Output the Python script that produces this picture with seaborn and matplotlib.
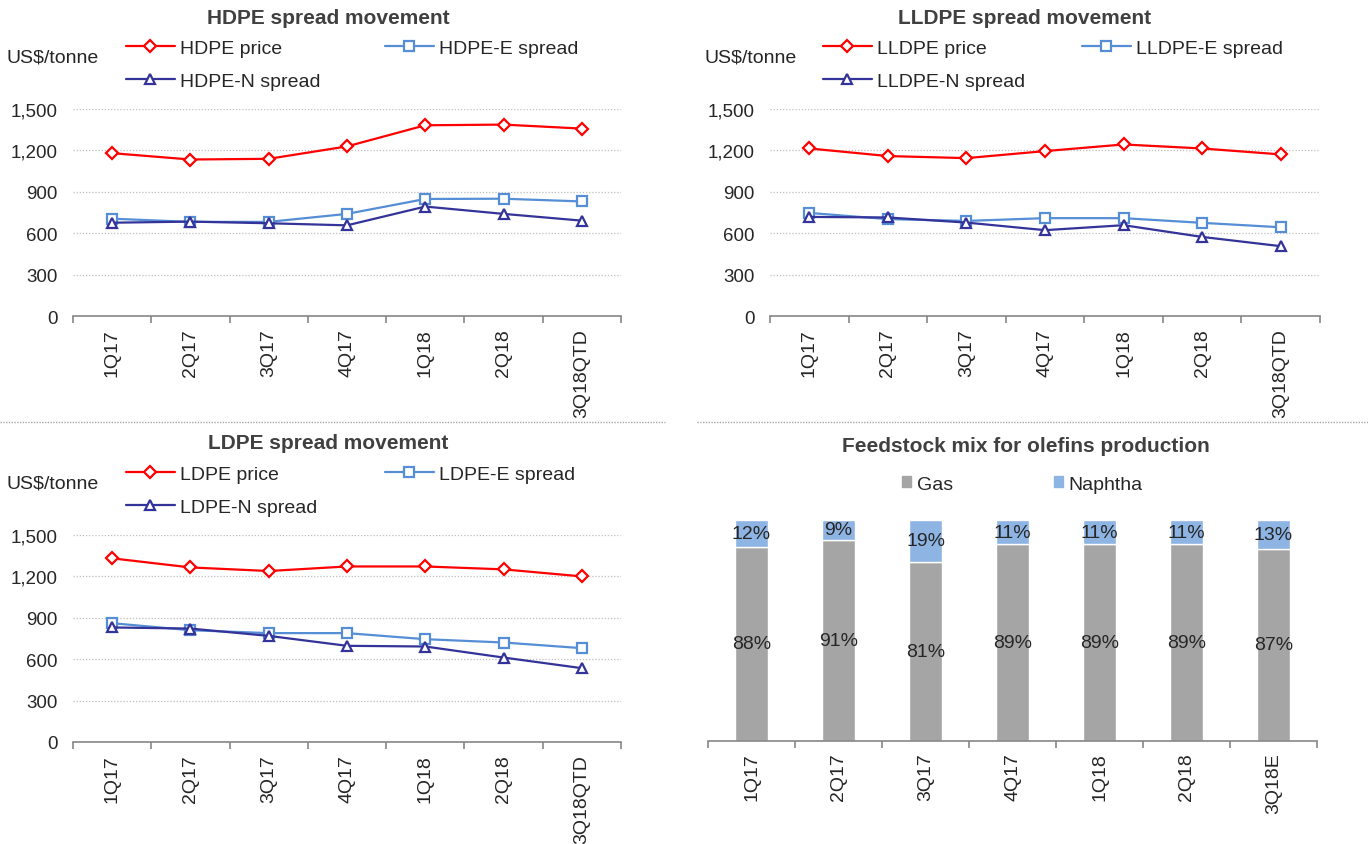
import numpy as np
import matplotlib.pyplot as plt
import seaborn as sns
from matplotlib.lines import Line2D
from matplotlib.patches import Patch
from matplotlib.ticker import FuncFormatter

# Data
quarters = ['1Q17', '2Q17', '3Q17', '4Q17', '1Q18', '2Q18', '3Q18QTD']
mix_quarters = ['1Q17', '2Q17', '3Q17', '4Q17', '1Q18', '2Q18', '3Q18E']

hdpe_price = [1180, 1134, 1139, 1229, 1382, 1387, 1358]
hdpe_e_spread = [705, 682, 682, 740, 848, 850, 830]
hdpe_n_spread = [676, 684, 672, 657, 793, 740, 691]

lldpe_price = [1214, 1159, 1144, 1195, 1243, 1214, 1171]
lldpe_e_spread = [747, 702, 689, 709, 709, 675, 643]
lldpe_n_spread = [718, 714, 677, 622, 658, 573, 506]

ldpe_price = [1331, 1265, 1239, 1272, 1272, 1251, 1200]
ldpe_e_spread = [861, 810, 789, 789, 745, 721, 680]
ldpe_n_spread = [830, 822, 769, 697, 692, 612, 535]

gas_share = [88, 91, 81, 89, 89, 89, 87]
naphtha_share = [12, 9, 19, 11, 11, 11, 13]

RED = '#FF0000'
LIGHT_BLUE = '#558ED5'
NAVY = '#333399'
GAS_GREY = '#A5A5A5'
NAPHTHA_BLUE = '#8EB4E3'
AXIS_GREY = '#868686'

W, H = 1368, 845


def fx(x):
    return x / W


def fy(y):
    return 1 - y / H


sns.set_style('white')
plt.rcParams['font.family'] = ['Liberation Sans', 'DejaVu Sans']

fig = plt.figure(figsize=(13.68, 8.45), dpi=100)


def add_ax(left, top, right, bottom):
    return fig.add_axes([fx(left), fy(bottom), fx(right) - fx(left), fy(top) - fy(bottom)])


def style_xaxis(ax, labels, pad):
    ax.set_xlim(-0.5, len(labels) - 0.5)
    ax.set_xticks(range(len(labels)))
    ax.set_xticklabels(labels, rotation=90, fontsize=14)
    ax.set_xticks(np.arange(-0.5, len(labels)), minor=True)
    ax.tick_params(axis='x', which='major', length=0, pad=pad)
    ax.tick_params(axis='x', which='minor', length=5, width=1.2, color=AXIS_GREY, direction='out', bottom=True)
    for s in ['top', 'right', 'left']:
        ax.spines[s].set_visible(False)
    ax.spines['bottom'].set_color(AXIS_GREY)
    ax.spines['bottom'].set_linewidth(1.2)
    ax.set_xlabel('')
    ax.set_ylabel('')


def draw_spread(ax, name, price, e_spread, n_spread, dx, dy):
    series = [
        (f'{name} price', price, RED, 'D', 6.5),
        (f'{name}-E spread', e_spread, LIGHT_BLUE, 's', 7),
        (f'{name}-N spread', n_spread, NAVY, '^', 7.5),
    ]
    handles = []
    for label, vals, col, mk, ms in series:
        sns.lineplot(x=quarters, y=vals, ax=ax, color=col, marker=mk, markersize=ms,
                     markerfacecolor='white', markeredgecolor=col, markeredgewidth=1.6,
                     linewidth=1.6, sort=False, legend=False)
        handles.append(Line2D([], [], color=col, marker=mk, markersize=ms, mfc='white',
                              mec=col, mew=1.6, lw=1.6))

    ax.set_ylim(0, 1500)
    ax.set_yticks(range(0, 1501, 300))
    ax.yaxis.set_major_formatter(FuncFormatter(lambda v, p: f'{v:,.0f}'))
    ax.tick_params(axis='y', length=0, pad=11, labelsize=13.5)
    ax.grid(axis='y', linestyle=(0, (1, 1.5)), color='#BFBFBF', linewidth=0.9)
    ax.grid(axis='x', visible=False)
    style_xaxis(ax, quarters, 9)

    leg_kw = dict(frameon=False, fontsize=14, handlelength=2.5, handletextpad=0.3,
                  borderpad=0, borderaxespad=0, labelspacing=0.82, loc='upper left')
    fig.legend([handles[0], handles[2]], [series[0][0], series[2][0]],
               bbox_to_anchor=(fx(126 + dx), fy(40 + dy)), **leg_kw)
    fig.legend([handles[1]], [series[1][0]],
               bbox_to_anchor=(fx(385 + dx), fy(40 + dy)), **leg_kw)

    fig.text(fx(328 + dx), fy(18 + dy), f'{name} spread movement', ha='center', va='center',
             fontsize=15, fontweight='bold', color='#404040')
    fig.text(fx(7 + dx), fy(58 + dy), 'US$/tonne', ha='left', va='center', fontsize=14)


ax1 = add_ax(73, 110, 621, 317)
draw_spread(ax1, 'HDPE', hdpe_price, hdpe_e_spread, hdpe_n_spread, 0, 0)

ax2 = add_ax(770, 110, 1320, 317)
draw_spread(ax2, 'LLDPE', lldpe_price, lldpe_e_spread, lldpe_n_spread, 697, 0)

ax3 = add_ax(73, 536, 621, 743)
draw_spread(ax3, 'LDPE', ldpe_price, ldpe_e_spread, ldpe_n_spread, 0, 426)

# Feedstock mix stacked bars
ax4 = add_ax(708, 521, 1317, 742)
sns.barplot(x=mix_quarters, y=gas_share, ax=ax4, color=GAS_GREY, width=0.39, saturation=1)
sns.barplot(x=mix_quarters, y=naphtha_share, bottom=gas_share, ax=ax4, color=NAPHTHA_BLUE,
            width=0.39, saturation=1)
for cont, vals in zip(ax4.containers, [gas_share, naphtha_share]):
    ax4.bar_label(cont, labels=[f'{v}%' for v in vals], label_type='center', fontsize=14)
ax4.set_ylim(0, 100)
ax4.set_yticks([])
style_xaxis(ax4, mix_quarters, 8)

fig.legend([Patch(color=GAS_GREY), Patch(color=NAPHTHA_BLUE)], ['Gas', 'Naphtha'],
           loc='center left', bbox_to_anchor=(fx(902), fy(485)), ncol=2, frameon=False,
           fontsize=14, handlelength=0.45, handleheight=0.45, handletextpad=0.3,
           columnspacing=5.2, borderpad=0, borderaxespad=0)
fig.text(fx(1026), fy(447), 'Feedstock mix for olefins production', ha='center', va='center',
         fontsize=15, fontweight='bold', color='#404040')

# dotted separators between the top and bottom rows
for x0, x1 in [(0, 665), (697, 1368)]:
    fig.add_artist(Line2D([fx(x0), fx(x1)], [fy(423), fy(423)], transform=fig.transFigure,
                          color='#A6A6A6', lw=1, linestyle=(0, (1, 1))))

fig.savefig('out.png', dpi=100)
